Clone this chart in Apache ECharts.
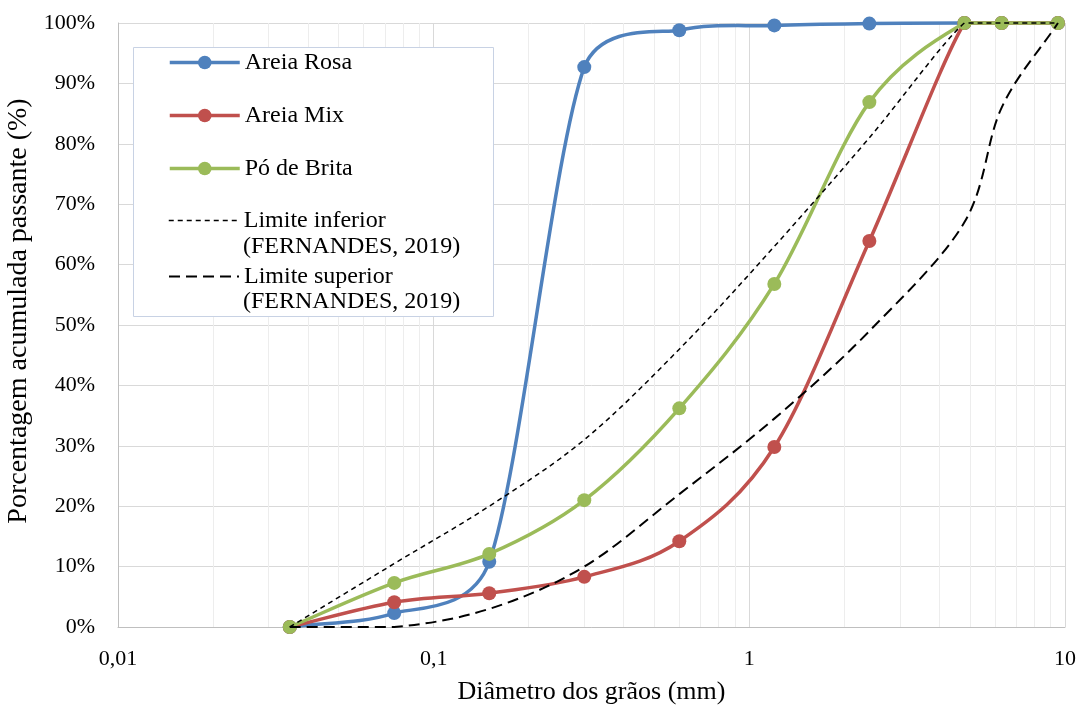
<!DOCTYPE html>
<html>
<head>
<meta charset="utf-8">
<script src="https://cdn.jsdelivr.net/npm/echarts@6/dist/echarts.min.js"></script>
<style>
html,body{margin:0;padding:0;background:#fff;}
#chart{width:1081px;height:707px;}
</style>
</head>
<body>
<div id="chart"></div>
<script>
// ---- data ----
const sieves = [0.035, 0.075, 0.15, 0.3, 0.6, 1.2, 2.4, 4.8, 6.3, 9.5];
const areiaRosa = [0, 2.3, 10.8, 92.7, 98.8, 99.6, 99.9, 100, 100, 100];
const areiaMix = [0, 4.1, 5.6, 8.3, 14.2, 29.8, 63.9, 100, 100, 100];
const poDeBrita = [0, 7.3, 12.1, 21.0, 36.2, 56.8, 86.9, 100, 100, 100];
const limiteInferior = [0, 10.5, 20, 31, 46, 63, 81, 100, 100, 100];
const limiteSuperior = [0, 0, 3, 10, 22, 34.5, 49, 67, 86, 100];
const minorGrid = [0.02,0.03,0.04,0.05,0.06,0.07,0.08,0.09,0.2,0.3,0.4,0.5,0.6,0.7,0.8,0.9,2,3,4,5,6,7,8,9];
const seriesNames = ['Areia Rosa', 'Areia Mix', 'Pó de Brita', 'Limite inferior', 'Limite superior'];
const legendSecondLine = '(FERNANDES, 2019)';
const xTitle = 'Diâmetro dos grãos (mm)';
const yTitle = 'Porcentagem acumulada passante (%)';

const FONT = 'Liberation Serif';
const pairs = arr => sieves.map((x, i) => [x, arr[i]]);

const styles = [
  {color: '#4f81bd', width: 3.5, dash: null, marker: true},
  {color: '#c0504d', width: 3.5, dash: null, marker: true},
  {color: '#9bbb59', width: 3.5, dash: null, marker: true},
  {color: '#000000', width: 1.5, dash: [5, 4], marker: false},
  {color: '#000000', width: 2, dash: [11, 6], marker: false}
];
const datasets = [areiaRosa, areiaMix, poDeBrita, limiteInferior, limiteSuperior];

const chart = echarts.init(document.getElementById('chart'), null, {renderer: 'canvas'});

// Excel-like smoothed curve (Bezier control points per Excel's smoothing), placed through the axis scales
function curveSeries(arr, st, z) {
  return {
    type: 'custom', name: '_curve', data: pairs(arr), z, silent: true, clip: false,
    renderItem(params, api) {
      if (params.dataIndex !== 0) return null;
      const pts = sieves.map((x, i) => api.coord([x, arr[i]]));
      const yTop = api.coord([1, 100])[1], yBot = api.coord([1, 0])[1];
      const clampY = y => Math.min(Math.max(y, yTop), yBot);
      const n = pts.length;
      const dist = (a, b) => Math.hypot(a[0] - b[0], a[1] - b[1]);
      let d = 'M' + pts[0][0] + ',' + pts[0][1];
      for (let i = 0; i < n - 1; i++) {
        const p0 = pts[Math.max(i - 1, 0)], p1 = pts[i], p2 = pts[i + 1], p3 = pts[Math.min(i + 2, n - 1)];
        const d12 = dist(p1, p2), d02 = dist(p0, p2), d13 = dist(p1, p3);
        let f1, f2;
        if (d02 / 6 < d12 / 2 && d13 / 6 < d12 / 2) {
          f1 = (i === 0) ? 1 / 3 : 1 / 6;
          f2 = (i + 2 > n - 1) ? 1 / 3 : 1 / 6;
        } else if (d02 / 6 >= d12 / 2 && d13 / 6 >= d12 / 2) {
          f1 = d12 / 2 / d02;
          f2 = d12 / 2 / d13;
        } else if (d02 / 6 >= d12 / 2) {
          f1 = d12 / 2 / d02;
          f2 = d12 / 2 / d13 * (d13 / d02);
        } else {
          f1 = d12 / 2 / d02 * (d02 / d13);
          f2 = d12 / 2 / d13;
        }
        const c1 = [p1[0] + (p2[0] - p0[0]) * f1, clampY(p1[1] + (p2[1] - p0[1]) * f1)];
        const c2 = [p2[0] - (p3[0] - p1[0]) * f2, clampY(p2[1] - (p3[1] - p1[1]) * f2)];
        d += ' C' + c1[0] + ',' + c1[1] + ',' + c2[0] + ',' + c2[1] + ',' + p2[0] + ',' + p2[1];
      }
      return {
        type: 'path', shape: {pathData: d},
        style: {fill: 'none', stroke: st.color, lineWidth: st.width, lineDash: st.dash || null}
      };
    }
  };
}

function markerSeries(name, arr, st, z) {
  return {
    name, type: 'line', data: pairs(arr), z,
    symbol: st.marker ? 'circle' : 'none', symbolSize: 14, showSymbol: st.marker,
    color: st.color,
    lineStyle: {color: st.color, width: 0, opacity: 0},
    itemStyle: {color: st.color, borderWidth: 0}
  };
}

const legendTops = [50.5, 103.5, 156.5, 208.5, 264.5];
const legends = seriesNames.map((n, i) => ({
  data: [n], left: 168, top: legendTops[i], orient: 'vertical',
  padding: 0, itemWidth: 70, itemHeight: 17, itemGap: 0,
  selectedMode: false, z: 30,
  textStyle: {fontFamily: FONT, fontSize: 24, color: '#000'},
  itemStyle: styles[i].marker ? {color: styles[i].color, opacity: 1, borderWidth: 0} : {opacity: 0},
  lineStyle: {color: styles[i].color, width: styles[i].width, opacity: 1, type: styles[i].dash || 'solid'}
}));

const seriesList = [{
  name: '_minorGrid', type: 'line', data: [], z: 1, silent: true,
  markLine: {
    silent: true, symbol: ['none', 'none'], animation: false,
    label: {show: false},
    lineStyle: {color: '#ededed', type: 'solid', width: 1},
    emphasis: {disabled: true},
    data: minorGrid.map(v => ({xAxis: v}))
  }
}];
datasets.forEach((arr, k) => {
  seriesList.push(markerSeries(seriesNames[k], arr, styles[k], 11 + 2 * k));
  seriesList.push(curveSeries(arr, styles[k], 10 + 2 * k));
});

chart.setOption({
  animation: false,
  backgroundColor: '#fff',
  grid: {left: 118, right: 16, top: 23, bottom: 80, containLabel: false, outerBoundsMode: 'none'},
  legend: legends,
  graphic: [
    {type: 'rect', z: 25, shape: {x: 133.5, y: 47.5, width: 360, height: 269},
     style: {fill: '#fff', stroke: '#c8d2e4', lineWidth: 1}},
    {type: 'text', z: 31, x: 243, y: 247, style: {text: legendSecondLine, font: '24px "' + FONT + '"', fill: '#000', verticalAlign: 'middle'}},
    {type: 'text', z: 31, x: 243, y: 302, style: {text: legendSecondLine, font: '24px "' + FONT + '"', fill: '#000', verticalAlign: 'middle'}}
  ],
  xAxis: {
    type: 'log', logBase: 10, min: 0.01, max: 10,
    name: xTitle, nameLocation: 'middle', nameGap: 52,
    nameTextStyle: {fontFamily: FONT, fontSize: 26, color: '#000'},
    axisLine: {lineStyle: {color: '#bfbfbf', width: 1}},
    axisTick: {show: false},
    axisLabel: {fontFamily: FONT, fontSize: 22, color: '#000', margin: 21,
      formatter: v => String(Number(Number(v).toPrecision(3))).replace('.', ',')},
    splitLine: {show: true, lineStyle: {color: '#d9d9d9', width: 1}},
    minorTick: {show: false}, minorSplitLine: {show: false}
  },
  yAxis: {
    type: 'value', min: 0, max: 100, interval: 10,
    name: yTitle, nameLocation: 'middle', nameGap: 78, nameRotate: 90,
    nameTextStyle: {fontFamily: FONT, fontSize: 28, color: '#000', padding: [0, 0, 0, 28]},
    axisLine: {show: true, lineStyle: {color: '#bfbfbf', width: 1}},
    axisTick: {show: false},
    axisLabel: {fontFamily: FONT, fontSize: 22, color: '#000', margin: 23, formatter: '{value}%'},
    splitLine: {show: true, lineStyle: {color: '#d9d9d9', width: 1}}
  },
  series: seriesList
});
</script>
</body>
</html>
